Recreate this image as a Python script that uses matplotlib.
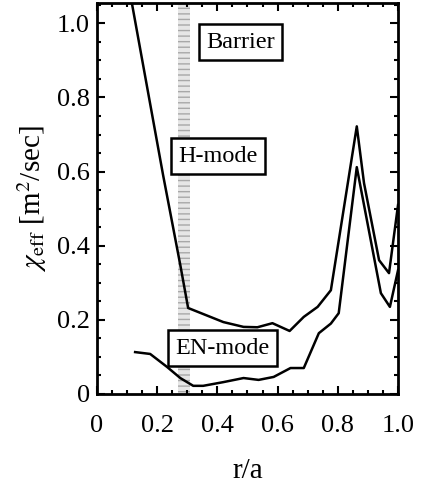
import numpy as np
import matplotlib
matplotlib.use('Agg')
import matplotlib.pyplot as plt

plt.rcParams['font.family'] = ['Liberation Serif', 'DejaVu Serif']
plt.rcParams['mathtext.fontset'] = 'stix'

# H-mode profile (upper curve)
r_h = [0.115, 0.22, 0.277, 0.303, 0.42, 0.487, 0.533, 0.583, 0.64, 0.687,
       0.733, 0.777, 0.863, 0.887, 0.937, 0.97, 1.0]
chi_h = [1.06, 0.59, 0.348, 0.232, 0.194, 0.181, 0.18, 0.191, 0.17, 0.208,
         0.235, 0.28, 0.722, 0.569, 0.361, 0.326, 0.51]

# EN-mode profile (lower curve)
r_en = [0.127, 0.177, 0.233, 0.277, 0.32, 0.353, 0.42, 0.487, 0.537, 0.587,
        0.643, 0.687, 0.737, 0.777, 0.803, 0.863, 0.943, 0.973, 1.0]
chi_en = [0.113, 0.108, 0.073, 0.043, 0.022, 0.022, 0.032, 0.043, 0.038, 0.046,
          0.07, 0.07, 0.164, 0.19, 0.218, 0.612, 0.272, 0.235, 0.334]

barrier_band = (0.27, 0.31)

fig = plt.figure(figsize=(4.23, 4.87), dpi=100)
ax = fig.add_axes([0.229, 0.191, 0.712, 0.803])

ax.axvspan(*barrier_band, facecolor='#e6e6e6', edgecolor='#a8a8a8',
           hatch='---', linewidth=0, zorder=1)

ax.plot(r_h, chi_h, color='black', lw=1.8, zorder=3)
ax.plot(r_en, chi_en, color='black', lw=1.8, zorder=3)

box = dict(boxstyle='square,pad=0.3', fc='white', ec='black', lw=1.8)
ax.text(0.477, 0.949, 'Barrier', ha='center', va='center', fontsize=17.5, bbox=box, zorder=4)
ax.text(0.403, 0.642, 'H-mode', ha='center', va='center', fontsize=17.5, bbox=box, zorder=4)
ax.text(0.417, 0.124, 'EN-mode', ha='center', va='center', fontsize=17.5, bbox=box, zorder=4)

ax.set_xlim(0, 1.0)
ax.set_ylim(0, 1.055)
ax.set_xticks([0, 0.2, 0.4, 0.6, 0.8, 1.0])
ax.set_xticklabels(['0', '0.2', '0.4', '0.6', '0.8', '1.0'])
ax.set_yticks([0, 0.2, 0.4, 0.6, 0.8, 1.0])
ax.set_yticklabels(['0', '0.2', '0.4', '0.6', '0.8', '1.0'])
ax.set_xticks(np.arange(0, 1.001, 0.05), minor=True)
ax.set_yticks(np.arange(0, 1.051, 0.05), minor=True)
ax.tick_params(which='both', direction='in', top=True, right=True, width=1.5)
ax.tick_params(which='major', length=6, labelsize=19)
ax.tick_params(which='minor', length=3)
ax.tick_params(axis='x', which='major', pad=15)
ax.tick_params(axis='y', which='major', pad=5)
for s in ax.spines.values():
    s.set_linewidth(2)

ax.set_xlabel('r/a', fontsize=21, labelpad=15)
ax.set_ylabel(r'$\chi_{\rm eff}$ [m$^2$/sec]', fontsize=21, labelpad=6)

fig.savefig('out.png', dpi=100)
